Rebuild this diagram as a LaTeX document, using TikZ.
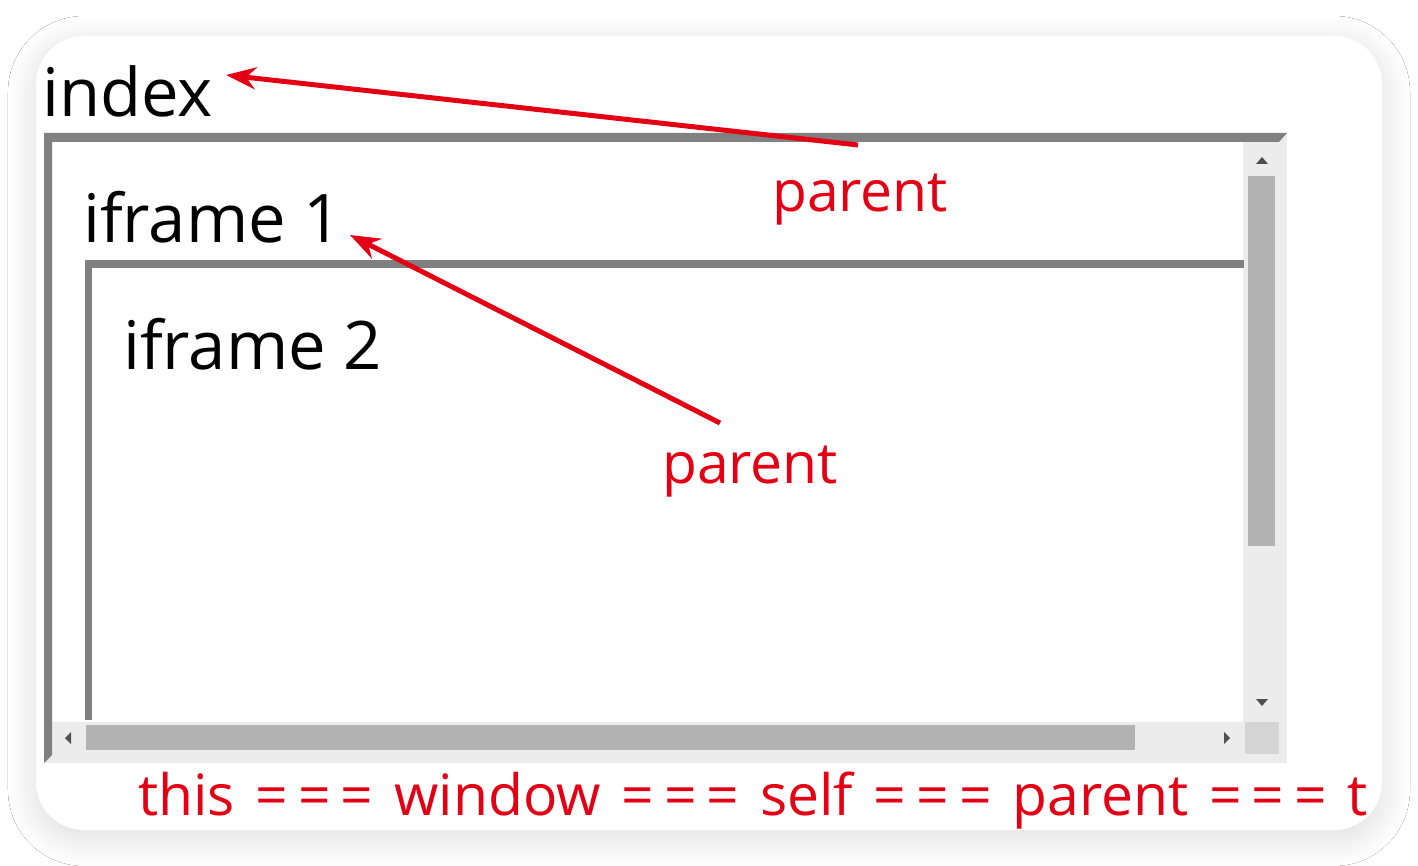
\documentclass[tikz,border=0pt]{standalone}
\usepackage{fontspec}
\setmainfont{Open Sans}
\usetikzlibrary{shadows.blur,arrows.meta}
\definecolor{redtxt}{RGB}{228,0,20}
\definecolor{darkgr}{RGB}{128,128,128}
\definecolor{lightgr}{RGB}{236,236,236}
\definecolor{thumbgr}{RGB}{178,178,178}
\definecolor{cornergr}{RGB}{212,212,212}
\definecolor{arrowgr}{RGB}{80,80,80}
\newcommand{\eqq}{\kern6pt=\kern10pt=\kern10pt=\kern6pt}
\tikzset{
  blacktext/.style={anchor=base west, inner sep=0pt, text=black, font=\fontsize{67}{75}\selectfont},
  redlabel/.style={anchor=base west, inner sep=0pt, text=redtxt, font=\fontsize{57}{65}\selectfont},
  redarrow/.style={draw=redtxt, line width=5pt, -{Stealth[length=30pt,width=22pt]}},
  darkedge/.style={fill=darkgr, draw=none},
  lightedge/.style={fill=lightgr, draw=none},
  tri/.style={fill=arrowgr, draw=none},
}
\begin{document}
\begin{tikzpicture}[x=1pt,y=-1pt]
\useasboundingbox (0,0) rectangle (1418,866);
\fill[white] (0,0) rectangle (1418,866);
% card
\path[fill=white, rounded corners=48pt, blur shadow={shadow xshift=0pt, shadow yshift=-8pt, shadow blur radius=28pt, shadow opacity=14, shadow blur steps=30}] (36,36) rectangle (1382,830);
% outer frame: light bottom/right area
\fill[lightedge] (44,133) rectangle (1287,763);
\fill[white] (52,142) rectangle (1243,722);
% outer frame dark top/left bevel
\fill[darkedge] (44,133) -- (1287,133) -- (1279,142) -- (52,142) -- (52,755) -- (44,763) -- cycle;
% vertical scrollbar
\fill[thumbgr] (1248,176) rectangle (1275,546);
\fill[tri] (1256,164) -- (1268,164) -- (1262,157) -- cycle;
\fill[tri] (1256,699) -- (1268,699) -- (1262,706) -- cycle;
% horizontal scrollbar
\fill[thumbgr] (86,725) rectangle (1135,750);
\fill[tri] (71,732) -- (71,744) -- (65,738) -- cycle;
\fill[tri] (1224,732) -- (1224,744) -- (1230,738) -- cycle;
\fill[cornergr] (1245,722) rectangle (1279,754);
% iframe 1 frame
\fill[darkedge] (85,260) rectangle (1244,268);
\fill[darkedge] (85,260) rectangle (92,720);
% texts
\node[blacktext] (index) at (42,117) {index};
\node[blacktext] (if1) at (83,243) {iframe 1};
\node[blacktext] (if2) at (123,370) {iframe 2};
\node[redlabel] (p1) at (772,212) {parent};
\node[redlabel] (p2) at (662,483) {parent};
\node[redlabel] (eq) at (138,815) {this \eqq{} window \eqq{} self \eqq{} parent \eqq{} t};
% arrows
\coordinate (s1) at (858,145);
\coordinate (t1) at (226,75);
\coordinate (s2) at (720,423);
\coordinate (t2) at (350,235);
\draw[redarrow] (s1) -- (t1);
\draw[redarrow] (s2) -- (t2);
\end{tikzpicture}
\end{document}
